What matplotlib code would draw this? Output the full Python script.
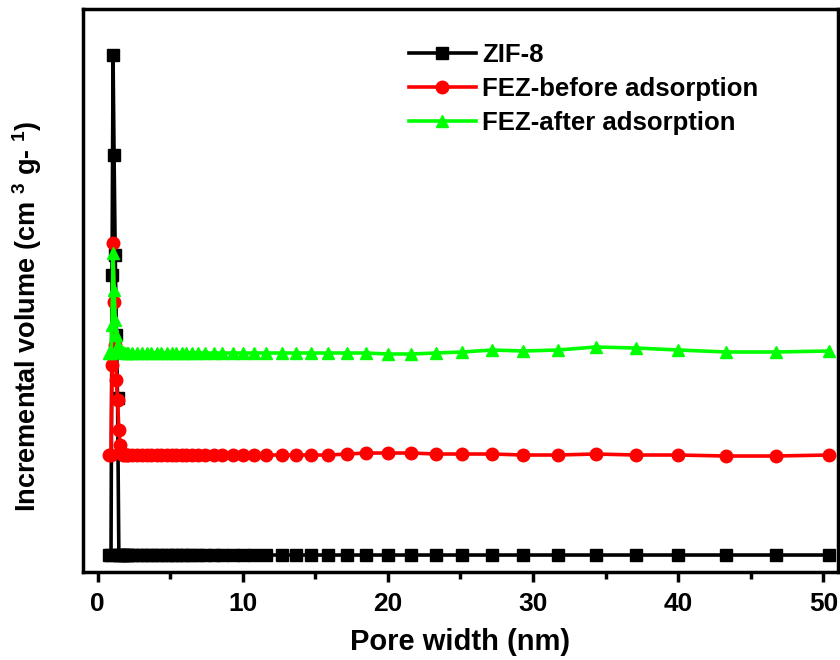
import matplotlib
matplotlib.use("Agg")
import matplotlib.pyplot as plt
from matplotlib.ticker import MultipleLocator

# Pore widths (nm)
pore_width = [0.80, 0.93, 1.00, 1.07, 1.14, 1.22, 1.30, 1.38, 1.47, 1.56, 1.66, 1.77,
              1.88, 2.00, 2.12, 2.35, 2.70, 3.05, 3.40, 3.70, 4.10, 4.40, 4.80, 5.10,
              5.40, 5.80, 6.10, 6.50, 6.90, 7.40, 8.00, 8.60, 9.30, 10.0, 10.8, 11.6,
              12.7, 13.7, 14.7, 15.9, 17.2, 18.5, 20.0, 21.6, 23.3, 25.1, 27.2, 29.3,
              31.7, 34.3, 37.1, 40.0, 43.3, 46.7, 50.4]

zif8 = [0.0, 0.0, 2.8, 5.0, 4.0, 3.0, 2.2, 1.57, 0.0, 0.0, 0.0, 0.0,
        0.0, 0.0, 0.0, 0.0, 0.0, 0.0, 0.0, 0.0, 0.0, 0.0, 0.0, 0.0,
        0.0, 0.0, 0.0, 0.0, 0.0, 0.0, 0.0, 0.0, 0.0, 0.0, 0.0, 0.0,
        0.0, 0.0, 0.0, 0.0, 0.0, 0.0, 0.0, 0.0, 0.0, 0.0, 0.0, 0.0,
        0.0, 0.0, 0.0, 0.0, 0.0, 0.0, 0.0]

fez_before = [1.0, 1.0, 1.9, 3.12, 2.53, 2.1, 1.75, 1.55, 1.25, 1.1, 1.02, 1.0,
              1.0, 1.0, 1.0, 1.0, 1.0, 1.0, 1.0, 1.0, 1.0, 1.0, 1.0, 1.0,
              1.0, 1.0, 1.0, 1.0, 1.0, 1.0, 1.0, 1.0, 1.0, 1.0, 1.0, 1.0,
              1.0, 1.0, 1.0, 1.0, 1.01, 1.02, 1.02, 1.02, 1.01, 1.01, 1.01, 1.0,
              1.0, 1.01, 1.0, 1.0, 0.99, 0.99, 1.0]

fez_after = [2.02, 2.02, 2.3, 3.02, 2.65, 2.35, 2.2, 2.1, 2.06, 2.04, 2.03, 2.03,
             2.02, 2.02, 2.02, 2.02, 2.02, 2.02, 2.02, 2.02, 2.02, 2.02, 2.02, 2.02,
             2.02, 2.02, 2.02, 2.02, 2.02, 2.02, 2.02, 2.02, 2.02, 2.02, 2.02, 2.02,
             2.02, 2.02, 2.02, 2.02, 2.02, 2.02, 2.01, 2.01, 2.02, 2.03, 2.05, 2.04,
             2.05, 2.08, 2.07, 2.05, 2.03, 2.03, 2.04]

series_labels = ["ZIF-8", "FEZ-before adsorption", "FEZ-after adsorption"]
series_colors = ["#000000", "#ff0000", "#00ff00"]
series_markers = ["s", "o", "^"]

plt.rcParams['font.family'] = ['Liberation Sans', 'DejaVu Sans']
plt.rcParams['font.weight'] = 'bold'
plt.rcParams['mathtext.fontset'] = 'custom'
plt.rcParams['mathtext.rm'] = 'Liberation Sans:bold'
plt.rcParams['mathtext.it'] = 'Liberation Sans:bold'
plt.rcParams['mathtext.bf'] = 'Liberation Sans:bold'

fig = plt.figure(figsize=(8.4, 6.6), dpi=100)
ax = fig.add_axes([0.0988, 0.1333, 0.8988, 0.8531])

for ys, lab, c, m in zip([zif8, fez_before, fez_after], series_labels,
                         series_colors, series_markers):
    ax.plot(pore_width, ys, color=c, marker=m, markersize=9, linewidth=2.6,
            label=lab)

ax.set_xlim(-1.0, 51.0)
ax.set_ylim(-0.17, 5.46)
ax.xaxis.set_major_locator(MultipleLocator(10))
ax.xaxis.set_minor_locator(MultipleLocator(5))
ax.set_yticks([])
ax.tick_params(axis='x', which='major', direction='out', length=7, width=2.5,
               labelsize=19, pad=7.5)
ax.tick_params(axis='x', which='minor', direction='out', length=5, width=2.5)
for lbl in ax.get_xticklabels():
    lbl.set_fontweight('bold')
for sp in ax.spines.values():
    sp.set_linewidth(2.5)

ax.set_xlabel("Pore width (nm)", fontsize=21, fontweight='bold')
ax.xaxis.set_label_coords(0.5, -0.099)
ax.set_ylabel(r"Incremental volume (cm $^{3}$ g- $^{1}$)", fontsize=19.5,
              fontweight='bold')
ax.yaxis.set_label_coords(-0.052, 0.455)

leg = ax.legend(loc='upper left', bbox_to_anchor=(0.418, 0.957), frameon=False,
                fontsize=18.5, handlelength=2.6, handletextpad=0.25,
                labelspacing=0.38, borderaxespad=0)
for t in leg.get_texts():
    t.set_fontweight('bold')

fig.savefig("out.png", dpi=100)
